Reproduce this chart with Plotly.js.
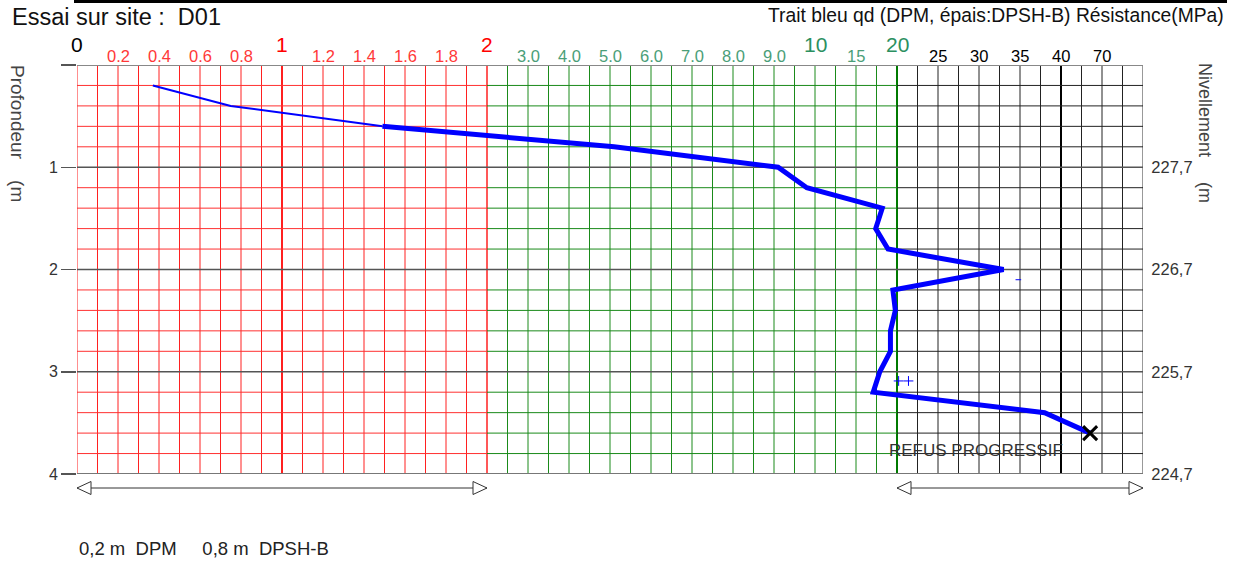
<!DOCTYPE html>
<html><head><meta charset="utf-8">
<script src="https://cdn.plot.ly/plotly-3.0.1.min.js"></script>
<style>html,body{margin:0;padding:0;background:#fff;} #chart{width:1238px;height:562px;}</style>
</head><body><div id="chart"></div>
<script>
// ---- data (qd in MPa, depth in m) ----
const dpmDepth = [0.2, 0.4, 0.6];
const dpmQd = [0.37, 0.75, 1.49];
const dpshDepth = [0.6, 0.8, 1.0, 1.2, 1.4, 1.6, 1.8, 2.0, 2.2, 2.4, 2.6, 2.8, 3.0, 3.2, 3.4, 3.6];
const dpshQd = [1.49, 5.1, 9.1, 9.8, 18.2, 17.4, 18.9, 33.0, 19.5, 19.8, 19.2, 19.2, 17.9, 17.1, 38.0, 61.3];
const refusDepth = [3.6];
const refusQd = [61.3];
const dashDepth = [2.1];
const dashQd = [34.8];
const plusDepth = [3.09, 3.09];
const plusQd = [20.2, 21.4];
const topTickValues = [0, 0.2, 0.4, 0.6, 0.8, 1, 1.2, 1.4, 1.6, 1.8, 2, 3, 4, 5, 6, 7, 8, 9, 10, 15, 20, 25, 30, 35, 40, 70];
const topTickLabels = ['0', '0.2', '0.4', '0.6', '0.8', '1', '1.2', '1.4', '1.6', '1.8', '2', '3.0', '4.0', '5.0', '6.0', '7.0', '8.0', '9.0', '10', '15', '20', '25', '30', '35', '40', '70'];
const depthTicks = [0, 1, 2, 3, 4];
const depthLabels = ['', '1', '2', '3', '4'];
const levelTicks = [1, 2, 3, 4];
const levelLabels = ['227,7', '226,7', '225,7', '224,7'];

// piecewise scale of the resistance axis -> grid units
function toUnit(v) {
  if (v <= 2) return v * 5;
  if (v <= 10) return 10 + (v - 2);
  if (v <= 40) return 18 + (v - 10) / 5;
  return 24 + (v - 40) / 30;
}
const FONT = 'Liberation Sans, Arial, sans-serif';
const NU = 26;

const traces = [
  {x: dpmQd.map(toUnit), y: dpmDepth, mode: 'lines', line: {color: '#0000ff', width: 2}, hoverinfo: 'skip'},
  {x: dpshQd.map(toUnit), y: dpshDepth, mode: 'lines', line: {color: '#0000ff', width: 5}, hoverinfo: 'skip'},
  {x: refusQd.map(toUnit), y: refusDepth, mode: 'markers', marker: {symbol: 'x-thin', size: 14, line: {color: '#000', width: 3}}, hoverinfo: 'skip'},
  {x: dashQd.map(toUnit), y: dashDepth, mode: 'markers', marker: {symbol: 'line-ew', size: 4, line: {color: '#0000ff', width: 1}}, hoverinfo: 'skip'},
  {x: plusQd.map(toUnit), y: plusDepth, mode: 'markers', marker: {symbol: 'cross-thin', size: 7, line: {color: '#0000ff', width: 1}}, hoverinfo: 'skip'}
];

const shapes = [];
// vertical grid
for (let i = 0; i <= NU * 2; i++) {
  const u = i / 2;
  let color, width = 1;
  if (u <= 10) color = '#ff2020';
  else if (u <= 20) color = '#1a8a1a';
  else color = '#222';
  if (u === 5) width = 2;
  if (u === 10) width = 1.5;
  if (u === 20) { width = 2; color = '#007a00'; }
  if (u === 24) { width = 2; color = '#000'; }
  if (u === NU) { width = 1.5; color = '#777'; }
  shapes.push({type: 'line', layer: 'below', xref: 'x', yref: 'y', x0: u, x1: u, y0: 0, y1: 4, line: {color: color, width: width}});
}
// horizontal grid
for (let j = 0; j <= 20; j++) {
  const d = j * 0.2;
  if (j % 5 === 0) continue;
  [[0, 10, '#ff3030'], [10, 20, '#1a8a1a'], [20, NU, '#222']].forEach(s => {
    shapes.push({type: 'line', layer: 'below', xref: 'x', yref: 'y', x0: s[0], x1: s[1], y0: d, y1: d, line: {color: s[2], width: 1}});
  });
}
for (let m = 0; m <= 4; m++) {
  const c = (m === 0) ? '#888' : (m === 4 ? '#777' : '#555');
  shapes.push({type: 'line', layer: 'below', xref: 'x', yref: 'y', x0: 0, x1: NU, y0: m, y1: m, line: {color: c, width: (m === 0 || m === 4) ? 2 : 1.5}});
}
// top black rule
shapes.push({type: 'line', xref: 'paper', yref: 'paper', x0: -3 / 1066, x1: 1150 / 1066, y0: 472.5 / 409, y1: 472.5 / 409, line: {color: '#000', width: 3}});
// bottom double arrows
const ay = -14 / 409, hh = 6.5 / 409, hl = 14 / 41;
function arrow(u0, u1) {
  shapes.push({type: 'line', xref: 'x', yref: 'paper', x0: u0, x1: u1, y0: ay, y1: ay, line: {color: '#333', width: 1}});
  shapes.push({type: 'path', xref: 'x', yref: 'paper', path: `M ${u0},${ay} L ${u0 + hl},${ay + hh} L ${u0 + hl},${ay - hh} Z`, fillcolor: '#fff', line: {color: '#333', width: 1}});
  shapes.push({type: 'path', xref: 'x', yref: 'paper', path: `M ${u1},${ay} L ${u1 - hl},${ay + hh} L ${u1 - hl},${ay - hh} Z`, fillcolor: '#fff', line: {color: '#333', width: 1}});
}
arrow(0, toUnit(2));
arrow(toUnit(20), NU);

const annotations = [];
topTickValues.forEach((v, i) => {
  const big = [0, 1, 2, 10, 20].includes(v);
  let color;
  if (v === 0) color = '#000';
  else if (v <= 2) color = big ? '#ff0000' : '#ff3838';
  else if (v <= 20) color = big ? '#2b9060' : '#4a9e78';
  else color = '#000';
  annotations.push({x: toUnit(v), xref: 'x', y: 1, yref: 'paper', yshift: big ? 21 : 9, xanchor: 'center', yanchor: 'middle',
    text: topTickLabels[i], showarrow: false, font: {family: FONT, size: big ? 21 : 16.5, color: color}});
});
annotations.push({x: -67 / 1066, xref: 'paper', y: 1, yref: 'paper', yshift: 48, xanchor: 'left', yanchor: 'middle',
  text: 'Essai sur site :\u00A0\u00A0D01', showarrow: false, font: {family: FONT, size: 23.5, color: '#111'}});
annotations.push({x: 1149 / 1066, xref: 'paper', y: 1, yref: 'paper', yshift: 50, xanchor: 'right', yanchor: 'middle',
  text: 'Trait bleu qd (DPM, épais:DPSH-B) Résistance(MPa)', showarrow: false, font: {family: FONT, size: 19.3, color: '#111'}});
annotations.push({x: -59 / 1066, xref: 'paper', y: (474 - 133) / 409, yref: 'paper', xanchor: 'center', yanchor: 'middle', textangle: 90,
  text: 'Profondeur\u00A0\u00A0\u00A0\u00A0(m', showarrow: false, font: {family: FONT, size: 19, color: '#444'}});
annotations.push({x: 1128 / 1066, xref: 'paper', y: (474 - 133) / 409, yref: 'paper', xanchor: 'center', yanchor: 'middle', textangle: 90,
  text: 'Nivellement\u00A0\u00A0\u00A0\u00A0\u00A0(m', showarrow: false, font: {family: FONT, size: 18, color: '#444'}});
annotations.push({x: 809.7 / 1066, xref: 'paper', y: (474 - 450) / 409, yref: 'paper', xanchor: 'left', yanchor: 'middle',
  text: 'REFUS PROGRESSIF', showarrow: false, font: {family: FONT, size: 17, color: '#333'}});
annotations.push({x: 0, xref: 'paper', y: 0, yref: 'paper', yshift: -74, xanchor: 'left', yanchor: 'middle',
  text: '0,2 m\u00A0\u00A0DPM\u00A0\u00A0\u00A0\u00A0\u00A00,8 m\u00A0\u00A0DPSH-B', showarrow: false, font: {family: FONT, size: 18.5, color: '#222'}});

const layout = {
  width: 1238, height: 562,
  margin: {l: 77, r: 95, t: 65, b: 88, pad: 0},
  paper_bgcolor: '#fff', plot_bgcolor: '#fff',
  showlegend: false,
  xaxis: {range: [0, NU], showgrid: false, zeroline: false, showticklabels: false, ticks: '', showline: false, fixedrange: true},
  yaxis: {range: [4, 0], tickvals: depthTicks, ticktext: depthLabels, ticks: 'outside', ticklen: 15, tickwidth: 1.5, tickcolor: '#555',
    showgrid: false, zeroline: false, showline: false, tickfont: {family: FONT, size: 16, color: '#333'}, fixedrange: true},
  yaxis2: {range: [4, 0], overlaying: 'y', side: 'right', tickvals: levelTicks, ticktext: levelLabels, ticks: 'outside', ticklen: 4,
    tickcolor: 'rgba(0,0,0,0)', showgrid: false, zeroline: false, showline: false, tickfont: {family: FONT, size: 16.5, color: '#333'}, fixedrange: true},
  shapes: shapes,
  annotations: annotations
};
// dummy trace to activate yaxis2
traces.push({x: [0], y: [0], yaxis: 'y2', mode: 'markers', marker: {opacity: 0}, hoverinfo: 'skip'});
Plotly.newPlot('chart', traces, layout, {displayModeBar: false, staticPlot: true});
</script></body></html>
